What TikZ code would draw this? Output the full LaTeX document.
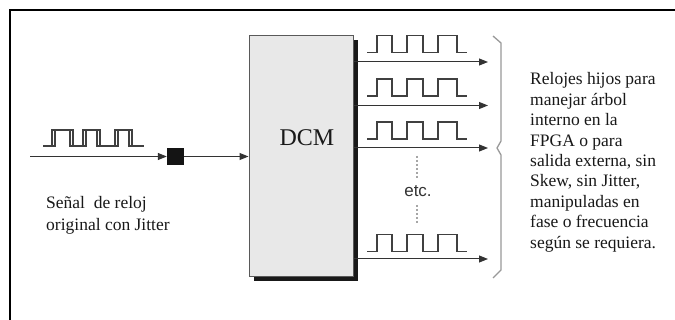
\documentclass[tikz,border=0pt]{standalone}
\usepackage{fontspec}
\setmainfont{Liberation Serif}
\newfontfamily\arialfont{Liberation Sans}
\usetikzlibrary{arrows.meta,shadows}
\newcommand\dcmoutwave[1]{\draw[wave] (367,#1) -- ++(10,0) -- ++(0,-17) -- ++(15,0) -- ++(0,17) -- ++(15,0) -- ++(0,-17) -- ++(16,0) -- ++(0,17) -- ++(15,0) -- ++(0,-17) -- ++(19,0) -- ++(0,17) -- ++(10,0);}
\begin{document}
\begin{tikzpicture}[x=1pt,y=-1pt,
  arr/.style={draw=black!80, line width=1pt, -{Triangle[length=9pt,width=7pt]}},
  wave/.style={draw=black!75, line width=1.2pt},
  txt/.style={font=\fontsize{17.5}{20.4}\selectfont, text=black!90, inner sep=0pt, align=left},
 ]
\useasboundingbox (0,0) rectangle (675,320);
\fill[white] (0,0) rectangle (675,320);
\draw[line width=2.5pt] (10,320) -- (10,10) -- (675,10);

% DCM block
\node[draw=black!65, fill=black!9, line width=1pt, minimum width=104pt, minimum height=241pt, inner sep=0pt,
  general shadow={fill=black!90, shadow xshift=4.5pt, shadow yshift=-4.5pt}] (dcm) at (301,156.5) {};
\node[font=\fontsize{24}{28}\selectfont, text=black!90] (dcmlabel) at (307,138) {DCM};

% input
\node[fill=black!92, minimum size=17pt, inner sep=0pt] (sq) at (175.5,156.5) {};
\coordinate (src) at (30,156.5);
\draw[arr] (src) -- (sq.west);
\draw[arr] (sq.east) -- (dcm.west |- sq.east);

\draw[wave] (43,146) -- (52,146) -- (52,130) -- (70,130) -- (70,146) -- (83,146) -- (83,130) -- (97,130) -- (97,146) -- (115,146) -- (115,130) -- (129,130) -- (129,146) -- (144,146);
\draw[wave] (43,146) -- (55,146) -- (55,130) -- (73,130) -- (73,146) -- (86,146) -- (86,130) -- (100,130) -- (100,146) -- (118,146) -- (118,130) -- (132,130) -- (132,146) -- (144,146);

\node[txt, font=\fontsize{17.5}{22}\selectfont, anchor=north west] (inlabel) at (46,196.5) {Señal\ \ de reloj\\original con Jitter};

% outputs
\coordinate (o1) at (488,62);
\coordinate (o2) at (488,105.5);
\coordinate (o3) at (488,148);
\coordinate (o4) at (488,259);
\foreach \i in {1,...,4} \draw[arr] (dcm.east |- o\i) -- (o\i);
\dcmoutwave{52.5}
\dcmoutwave{96}
\dcmoutwave{139}
\dcmoutwave{251.5}

\draw[draw=black!35, line width=1.5pt, dash pattern=on 2.5pt off 1.5pt] (417,156) -- (417,178);
\draw[draw=black!35, line width=1.5pt, dash pattern=on 2.5pt off 1.5pt] (417,205) -- (417,223);
\node[font=\arialfont\fontsize{17}{20}\selectfont, text=black!80, inner sep=0pt] (etc) at (418,191) {etc.};

% brace
\draw[draw=black!40, line width=1.3pt] (493,36) -- (501,43) -- (501,141) -- (497,148) -- (501,155) -- (501,270) -- (493,278);

\node[txt, anchor=north west] (desc) at (530,72.5) {Relojes hijos para\\manejar árbol\\interno en la\\FPGA o para\\salida externa, sin\\Skew, sin Jitter,\\manipuladas en\\fase o frecuencia\\según se requiera.};
\end{tikzpicture}
\end{document}
